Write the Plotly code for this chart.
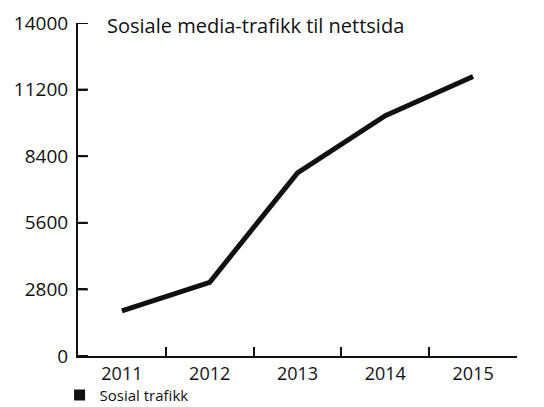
import plotly.graph_objects as go

years = ["2011", "2012", "2013", "2014", "2015"]
traffic = [1900, 3100, 7700, 10100, 11750]
y_ticks = [0, 2800, 5600, 8400, 11200, 14000]
title_text = "Sosiale media-trafikk til nettsida"
series_name = "Sosial trafikk"

FONT = "Open Sans"
INK = "#111111"

# page body has an 8px margin, so the figure is drawn 8px smaller
W, H = 536, 399
L, R, T, B = 70, 27, 15, 51
PLOT_W = W - L - R

fig = go.Figure()
fig.add_trace(go.Scatter(
    x=years, y=traffic, mode="lines", name=series_name,
    line=dict(color=INK, width=5), showlegend=False,
))
fig.add_trace(go.Scatter(
    x=[None], y=[None], mode="markers", name=series_name,
    marker=dict(symbol="square", size=11, color=INK),
    showlegend=True,
))

# inward tick marks on the value axis, placed through the y scale
for v in y_ticks:
    fig.add_shape(type="line", xref="paper", yref="y",
                  x0=0, x1=10 / PLOT_W, y0=v, y1=v,
                  line=dict(color=INK, width=2), layer="above")

fig.update_layout(
    width=W, height=H,
    margin=dict(l=L, r=R, t=T, b=B, autoexpand=False),
    paper_bgcolor="white", plot_bgcolor="white",
    font=dict(family=FONT, color=INK, size=17),
    title=dict(text=title_text, x=(99 - 70) / PLOT_W, xref="paper", xanchor="left",
               y=1 - 18 / H, yanchor="middle", yref="container",
               font=dict(family=FONT, size=20, color=INK)),
    showlegend=True,
    legend=dict(x=-0.042, xanchor="left", y=-0.118, yanchor="middle",
                font=dict(family=FONT, size=15, color=INK),
                bgcolor="rgba(0,0,0,0)", itemwidth=30,
                tracegroupgap=0),
    xaxis=dict(
        type="category", range=[-0.5, 4.5], tickson="boundaries",
        showline=True, linecolor=INK, linewidth=2,
        ticks="inside", ticklen=9, tickwidth=2, tickcolor=INK,
        showgrid=False, zeroline=False, automargin=False,
        tickfont=dict(family=FONT, size=18, color=INK),
    ),
    yaxis=dict(
        range=[y_ticks[0], y_ticks[-1]], tickmode="array", tickvals=y_ticks,
        ticktext=[str(v) for v in y_ticks],
        showline=True, linecolor=INK, linewidth=2,
        ticks="inside", ticklen=9, tickwidth=2, tickcolor=INK,
        showgrid=False, zeroline=False, automargin=False, ticklabelstandoff=4,
        tickfont=dict(family=FONT, size=19, color=INK),
    ),
)

fig.write_html("out.html")
